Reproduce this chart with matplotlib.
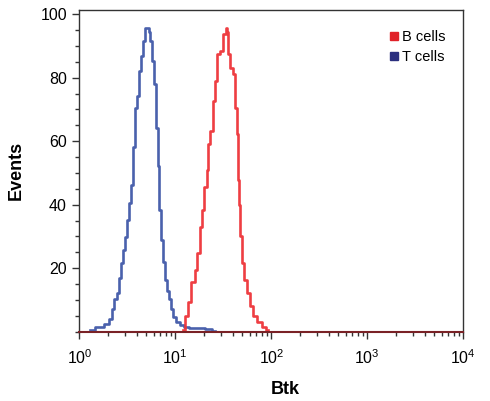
import matplotlib
matplotlib.use("Agg")
import matplotlib.pyplot as plt
from matplotlib.lines import Line2D
from matplotlib.ticker import MultipleLocator

plt.rcParams['font.family'] = ['Liberation Sans Narrow', 'Liberation Sans', 'DejaVu Sans']

# Btk intensity (bin positions) and event counts
t_btk = [1.29, 1.64, 1.98, 2.13, 2.23, 2.40, 2.52, 2.64, 2.77, 2.91, 3.05, 3.20,
         3.36, 3.53, 3.70, 3.88, 4.07, 4.27, 4.48, 4.70, 4.93, 5.17, 5.43, 5.56,
         5.83, 6.12, 6.43, 6.74, 6.90, 7.24, 7.60, 7.97, 8.36, 8.77, 9.20, 9.89,
         10.6, 11.7, 12.9, 14.9, 18.0, 22.9, 25.8]
t_events = [0.5, 1.4, 2.3, 3.9, 7.0, 10.2, 12.3, 17.0, 21.7, 25.8, 29.8, 35.2,
            40.5, 46.1, 58.0, 70.5, 74.2, 82.0, 86.7, 91.4, 95.5, 95.5, 94.5, 91.4,
            85.2, 78.0, 64.2, 52.3, 38.3, 28.9, 22.0, 16.4, 12.7, 10.2, 7.0, 4.5,
            2.9, 2.0, 1.4, 1.0, 1.0, 0.8, 0.3]

b_btk = [12.0, 13.2, 14.2, 15.2, 16.8, 17.2, 18.5, 19.4, 20.8, 21.8, 22.4, 24.0,
         25.2, 27.1, 27.8, 30.5, 32.1, 34.5, 35.3, 36.1, 38.8, 40.7, 42.8, 44.9,
         45.9, 47.1, 48.2, 50.6, 54.3, 57.0, 62.8, 67.5, 76.0, 85.7, 92.1]
b_events = [0.5, 4.8, 9.2, 15.5, 19.5, 24.8, 33.0, 38.3, 45.5, 50.8, 59.2, 63.3,
            72.7, 79.0, 87.3, 88.3, 93.6, 95.5, 94.5, 87.3, 83.0, 81.1, 70.5, 62.3,
            47.7, 40.0, 30.0, 21.7, 16.4, 12.3, 8.0, 4.8, 3.0, 1.4, 0.5]

red = '#ee3338'
blue = '#4058a8'

fig = plt.figure(figsize=(4.9, 4.01), dpi=100)
ax = fig.add_axes([0.162, 0.173, 0.7835, 0.802])

ax.step(t_btk, t_events, where='mid', color=blue, lw=1.9, alpha=0.95)
ax.step(b_btk, b_events, where='mid', color=red, lw=1.9, alpha=0.95)

ax.set_xscale('log')
ax.set_xlim(1, 1e4)
ax.set_ylim(0, 101.3)
ax.set_xticks([1, 10, 100, 1000, 10000])
ax.set_xticklabels([r'$\mathregular{10^{%d}}$' % i for i in range(5)])
ax.set_yticks([20, 40, 60, 80, 100])
ax.yaxis.set_minor_locator(MultipleLocator(5))

for s in ax.spines.values():
    s.set_color('#333333')
    s.set_linewidth(1.0)
ax.spines['bottom'].set_color('#7a2226')
ax.spines['bottom'].set_linewidth(1.5)

ax.tick_params(which='major', direction='out', length=5, width=1, labelsize=11.5,
               color='#333333', pad=4)
ax.tick_params(which='minor', direction='out', length=3, width=1, color='#333333')
ax.tick_params(axis='x', which='major', pad=7)

ax.set_xlabel('Btk', fontsize=13, fontweight='bold')
ax.set_ylabel('Events', fontsize=13, fontweight='bold')
ax.xaxis.set_label_coords(0.535, -0.155)
ax.yaxis.set_label_coords(-0.142, 0.5)

handles = [Line2D([], [], marker='s', ls='none', color='#e02128', markersize=5.5),
           Line2D([], [], marker='s', ls='none', color='#2b2f7e', markersize=5.5)]
ax.legend(handles, ['B cells', 'T cells'], loc='upper right',
          bbox_to_anchor=(0.97, 0.955), frameon=False, fontsize=10.5,
          handletextpad=0.1, labelspacing=0.4, handlelength=1.0, borderaxespad=0)

fig.savefig('out.png', dpi=100)
